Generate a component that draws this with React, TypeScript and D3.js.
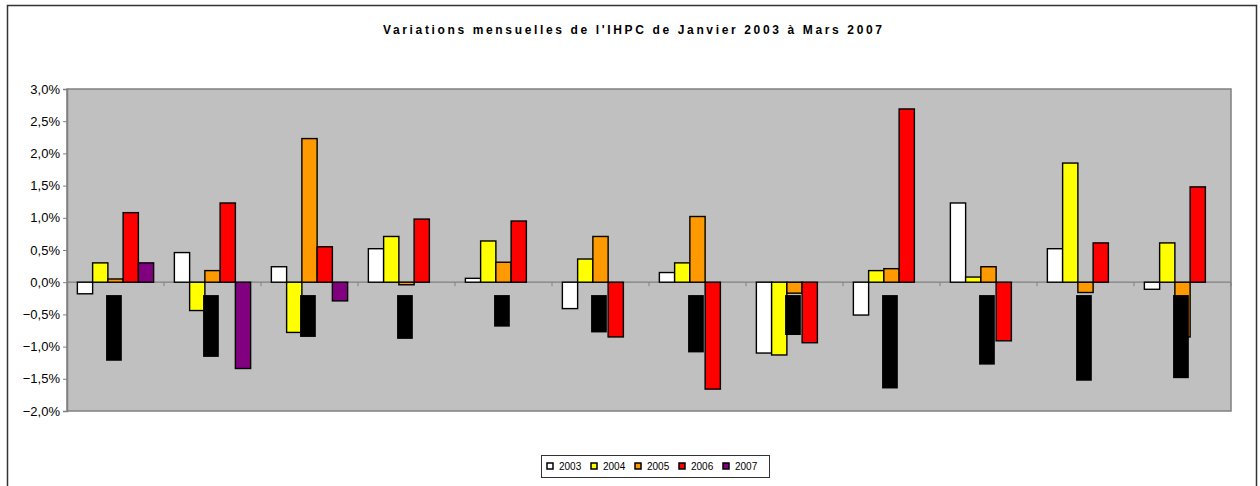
import React, { useEffect, useRef } from "react";
import * as d3 from "d3";

const months = ["Jan", "Fév", "Mar", "Avr", "Mai", "Jun", "Jul", "Aoû", "Sep", "Oct", "Nov", "Déc"];
const years = ["2003", "2004", "2005", "2006", "2007"];
const colors = ["#ffffff", "#ffff00", "#ff9900", "#ff0000", "#800080"];

// monthly variations in %, null = no data
const v2003 = [-0.18, 0.46, 0.24, 0.52, 0.06, -0.41, 0.15, -1.1, -0.51, 1.23, 0.52, -0.11];
const v2004 = [0.3, -0.44, -0.78, 0.71, 0.64, 0.36, 0.3, -1.13, 0.18, 0.08, 1.85, 0.61];
const v2005 = [0.05, 0.18, 2.23, -0.04, 0.31, 0.71, 1.02, -0.17, 0.21, 0.24, -0.16, -0.85];
const v2006 = [1.08, 1.23, 0.55, 0.98, 0.95, -0.85, -1.66, -0.94, 2.69, -0.91, 0.61, 1.48];
const v2007 = [0.3, -1.34, -0.29, null, null, null, null, null, null, null, null, null];

// black blocks sitting over the chart (from -0,2% down to these values)
const maskTop = -0.2;
const maskBottom = [-1.22, -1.16, -0.85, -0.88, -0.69, -0.78, -1.09, -0.82, -1.65, -1.28, -1.53, -1.49];

const yTicks = [3, 2.5, 2, 1.5, 1, 0.5, 0, -0.5, -1, -1.5, -2];

const W = 1260;
const H = 486;

export default function App() {
  const ref = useRef<SVGSVGElement>(null);

  useEffect(() => {
    document.body.style.margin = "0";
    const svg = d3.select(ref.current);
    svg.selectAll("*").remove();

    const series = [v2003, v2004, v2005, v2006, v2007];
    const margin = { top: 89, right: 29, bottom: 75, left: 67 };

    const x0 = d3.scaleBand().domain(months).range([margin.left, W - margin.right]);
    const x1 = d3.scaleBand().domain(years).range([0, x0.bandwidth()]).paddingInner(0).paddingOuter(0.68);
    const y = d3.scaleLinear().domain([-2, 3]).range([H - margin.bottom, margin.top]);

    // outer chart frame
    svg.append("rect")
      .attr("x", 7.5).attr("y", 5.5)
      .attr("width", 1249).attr("height", 490)
      .attr("fill", "#fff").attr("stroke", "#333").attr("stroke-width", 1.5);

    svg.append("text")
      .attr("x", 383).attr("y", 34)
      .attr("font-family", "Arial, 'Liberation Sans', sans-serif")
      .attr("font-weight", "bold").attr("font-size", 12)
      .attr("textLength", 499).attr("lengthAdjust", "spacing")
      .text("Variations mensuelles de l'IHPC de Janvier 2003 à Mars 2007");

    // plot area
    svg.append("rect")
      .attr("x", margin.left).attr("y", margin.top)
      .attr("width", W - margin.right - margin.left)
      .attr("height", H - margin.bottom - margin.top)
      .attr("fill", "#c0c0c0").attr("stroke", "#808080").attr("stroke-width", 1.5);

    const yAxis = svg.append("g")
      .attr("transform", `translate(${margin.left},0)`)
      .call(d3.axisLeft(y).tickValues(yTicks).tickSize(4).tickPadding(3)
        .tickFormat(d => d3.format(".1f")(d as number).replace(".", ",") + "%"));
    yAxis.select(".domain").attr("stroke", "#808080").attr("stroke-width", 1.5);
    yAxis.selectAll(".tick line").attr("stroke", "#808080");
    yAxis.selectAll(".tick text")
      .attr("font-family", "Arial, 'Liberation Sans', sans-serif")
      .attr("font-size", 13).attr("fill", "#000");

    // zero line with category ticks
    const zero = svg.append("g");
    zero.append("line")
      .attr("x1", margin.left).attr("x2", W - margin.right)
      .attr("y1", y(0)).attr("y2", y(0))
      .attr("stroke", "#808080").attr("stroke-width", 1.2);
    zero.selectAll("line.tk")
      .data(months.slice(1).concat(["end"]))
      .join("line")
      .attr("class", "tk")
      .attr("x1", (d, i) => margin.left + (i + 1) * x0.bandwidth())
      .attr("x2", (d, i) => margin.left + (i + 1) * x0.bandwidth())
      .attr("y1", y(0)).attr("y2", y(0) + 4)
      .attr("stroke", "#808080");

    const bars: { m: string; yr: string; v: number; c: string }[] = [];
    series.forEach((s, k) => {
      s.forEach((v, i) => {
        if (v !== null) bars.push({ m: months[i], yr: years[k], v, c: colors[k] });
      });
    });

    svg.append("g")
      .selectAll("rect")
      .data(bars)
      .join("rect")
      .attr("x", d => x0(d.m)! + x1(d.yr)!)
      .attr("width", x1.bandwidth())
      .attr("y", d => y(Math.max(0, d.v)))
      .attr("height", d => Math.abs(y(d.v) - y(0)))
      .attr("fill", d => d.c)
      .attr("stroke", "#000").attr("stroke-width", 1.4);

    svg.append("g")
      .selectAll("rect")
      .data(maskBottom)
      .join("rect")
      .attr("x", (d, i) => x0(months[i])! + x1("2005")! - 1.8)
      .attr("width", x1.bandwidth() + 0.5)
      .attr("y", y(maskTop))
      .attr("height", d => y(d) - y(maskTop))
      .attr("fill", "#000");

    // legend
    const lg = svg.append("g").attr("transform", "translate(541,455)");
    lg.append("rect")
      .attr("x", 0.5).attr("y", 0.5).attr("width", 228).attr("height", 22)
      .attr("fill", "#fff").attr("stroke", "#333");
    const item = lg.selectAll("g.it")
      .data(years)
      .join("g")
      .attr("class", "it")
      .attr("transform", (d, i) => `translate(${6 + i * 44},11)`);
    item.append("rect")
      .attr("x", 0).attr("y", -3).attr("width", 6).attr("height", 6)
      .attr("fill", (d, i) => colors[i]).attr("stroke", "#000").attr("stroke-width", 1.5);
    item.append("text")
      .attr("x", 12).attr("y", 3.5)
      .attr("font-family", "Arial, 'Liberation Sans', sans-serif")
      .attr("font-size", 10)
      .text(d => d);
  }, []);

  return <svg ref={ref} width={W} height={H} style={{ display: "block" }} />;
}
